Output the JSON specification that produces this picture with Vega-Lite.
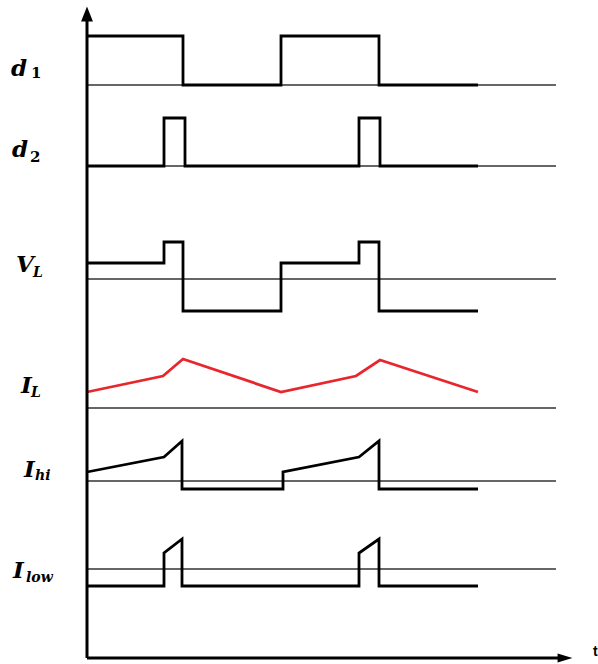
{
  "$schema": "https://vega.github.io/schema/vega-lite/v6.json",
  "width": 598,
  "height": 664,
  "autosize": {"type": "fit", "contains": "padding"},
  "padding": 0,
  "background": "white",
  "config": {"view": {"stroke": null}},
  "datasets": {
    "waves": [
      {"signal": "d1", "i": 0, "t": 0, "v": 622},
      {"signal": "d1", "i": 1, "t": 96, "v": 622},
      {"signal": "d1", "i": 2, "t": 96, "v": 573},
      {"signal": "d1", "i": 3, "t": 194, "v": 573},
      {"signal": "d1", "i": 4, "t": 194, "v": 622},
      {"signal": "d1", "i": 5, "t": 292, "v": 622},
      {"signal": "d1", "i": 6, "t": 292, "v": 573},
      {"signal": "d1", "i": 7, "t": 391, "v": 573},

      {"signal": "d2", "i": 0, "t": 0, "v": 492},
      {"signal": "d2", "i": 1, "t": 77, "v": 492},
      {"signal": "d2", "i": 2, "t": 77, "v": 540},
      {"signal": "d2", "i": 3, "t": 98, "v": 540},
      {"signal": "d2", "i": 4, "t": 98, "v": 492},
      {"signal": "d2", "i": 5, "t": 272, "v": 492},
      {"signal": "d2", "i": 6, "t": 272, "v": 540},
      {"signal": "d2", "i": 7, "t": 293, "v": 540},
      {"signal": "d2", "i": 8, "t": 293, "v": 492},
      {"signal": "d2", "i": 9, "t": 391, "v": 492},

      {"signal": "VL", "i": 0, "t": 0, "v": 395},
      {"signal": "VL", "i": 1, "t": 77, "v": 395},
      {"signal": "VL", "i": 2, "t": 77, "v": 416},
      {"signal": "VL", "i": 3, "t": 96, "v": 416},
      {"signal": "VL", "i": 4, "t": 96, "v": 347},
      {"signal": "VL", "i": 5, "t": 194, "v": 347},
      {"signal": "VL", "i": 6, "t": 194, "v": 395},
      {"signal": "VL", "i": 7, "t": 272, "v": 395},
      {"signal": "VL", "i": 8, "t": 272, "v": 416},
      {"signal": "VL", "i": 9, "t": 292, "v": 416},
      {"signal": "VL", "i": 10, "t": 292, "v": 347},
      {"signal": "VL", "i": 11, "t": 391, "v": 347},

      {"signal": "IL", "i": 0, "t": 0, "v": 266},
      {"signal": "IL", "i": 1, "t": 76, "v": 282},
      {"signal": "IL", "i": 2, "t": 96, "v": 299},
      {"signal": "IL", "i": 3, "t": 194, "v": 266},
      {"signal": "IL", "i": 4, "t": 269, "v": 282},
      {"signal": "IL", "i": 5, "t": 293, "v": 298},
      {"signal": "IL", "i": 6, "t": 391, "v": 266},

      {"signal": "Ihi", "i": 0, "t": 0, "v": 186},
      {"signal": "Ihi", "i": 1, "t": 77, "v": 201},
      {"signal": "Ihi", "i": 2, "t": 95, "v": 217},
      {"signal": "Ihi", "i": 3, "t": 95, "v": 169},
      {"signal": "Ihi", "i": 4, "t": 196, "v": 169},
      {"signal": "Ihi", "i": 5, "t": 196, "v": 186},
      {"signal": "Ihi", "i": 6, "t": 272, "v": 201},
      {"signal": "Ihi", "i": 7, "t": 292, "v": 217},
      {"signal": "Ihi", "i": 8, "t": 292, "v": 169},
      {"signal": "Ihi", "i": 9, "t": 391, "v": 169},

      {"signal": "Ilow", "i": 0, "t": 0, "v": 72},
      {"signal": "Ilow", "i": 1, "t": 77, "v": 72},
      {"signal": "Ilow", "i": 2, "t": 77, "v": 105},
      {"signal": "Ilow", "i": 3, "t": 95, "v": 119},
      {"signal": "Ilow", "i": 4, "t": 95, "v": 72},
      {"signal": "Ilow", "i": 5, "t": 272, "v": 72},
      {"signal": "Ilow", "i": 6, "t": 272, "v": 105},
      {"signal": "Ilow", "i": 7, "t": 292, "v": 119},
      {"signal": "Ilow", "i": 8, "t": 292, "v": 72},
      {"signal": "Ilow", "i": 9, "t": 391, "v": 72}
    ],
    "baselines": [
      {"signal": "d1", "t0": 0, "t1": 469, "v": 573},
      {"signal": "d2", "t0": 0, "t1": 469, "v": 492},
      {"signal": "VL", "t0": 0, "t1": 469, "v": 379},
      {"signal": "IL", "t0": 0, "t1": 469, "v": 250},
      {"signal": "Ihi", "t0": 0, "t1": 469, "v": 177},
      {"signal": "Ilow", "t0": 0, "t1": 469, "v": 89}
    ],
    "axes": [
      {"axis": "value", "t0": 0, "t1": 0, "v0": 0, "v1": 637},
      {"axis": "time", "t0": 0, "t1": 471, "v0": 0, "v1": 0}
    ],
    "arrows": [
      {"axis": "value", "t": 0, "v": 644},
      {"axis": "time", "t": 478, "v": 0}
    ],
    "names": [
      {"name": "d", "t": -76, "v": 582},
      {"name": "d", "t": -75, "v": 501},
      {"name": "V", "t": -71, "v": 386},
      {"name": "I", "t": -66, "v": 265},
      {"name": "I", "t": -63, "v": 181},
      {"name": "I", "t": -74, "v": 80}
    ],
    "digitSubscripts": [
      {"name": "1", "t": -56, "v": 580},
      {"name": "2", "t": -57, "v": 496}
    ],
    "letterSubscripts": [
      {"name": "L", "t": -54, "v": 381},
      {"name": "L", "t": -56, "v": 261},
      {"name": "hi", "t": -52, "v": 178},
      {"name": "low", "t": -61, "v": 76}
    ],
    "timeLabel": [
      {"name": "t", "t": 506, "v": 2}
    ]
  },
  "layer": [
    {
      "data": {"name": "baselines"},
      "mark": {"type": "rule", "stroke": "#333333", "strokeWidth": 1.3},
      "encoding": {
        "x": {"field": "t0", "type": "quantitative", "scale": {"domain": [-87, 511], "nice": false, "zero": false}, "axis": null},
        "x2": {"field": "t1"},
        "y": {"field": "v", "type": "quantitative", "scale": {"domain": [-6, 658], "nice": false, "zero": false}, "axis": null}
      }
    },
    {
      "data": {"name": "waves"},
      "mark": {"type": "line", "strokeWidth": 2.8, "strokeJoin": "miter", "strokeCap": "butt"},
      "encoding": {
        "x": {"field": "t", "type": "quantitative"},
        "y": {"field": "v", "type": "quantitative"},
        "detail": {"field": "signal"},
        "order": {"field": "i", "type": "quantitative"},
        "color": {
          "field": "signal",
          "type": "nominal",
          "scale": {"domain": ["d1", "d2", "VL", "IL", "Ihi", "Ilow"], "range": ["#000000", "#000000", "#000000", "#e8262d", "#000000", "#000000"]},
          "legend": null
        }
      }
    },
    {
      "data": {"name": "axes"},
      "mark": {"type": "rule", "stroke": "#000000", "strokeWidth": 3},
      "encoding": {
        "x": {"field": "t0", "type": "quantitative"},
        "x2": {"field": "t1"},
        "y": {"field": "v0", "type": "quantitative"},
        "y2": {"field": "v1"}
      }
    },
    {
      "data": {"name": "arrows"},
      "mark": {"type": "point", "filled": true, "fill": "#000000", "opacity": 1, "strokeWidth": 0},
      "encoding": {
        "x": {"field": "t", "type": "quantitative"},
        "y": {"field": "v", "type": "quantitative"},
        "shape": {
          "field": "axis",
          "type": "nominal",
          "scale": {"domain": ["value", "time"], "range": ["M0,-1L0.8,1L-0.8,1Z", "M1,0L-1,0.62L-1,-0.62Z"]},
          "legend": null
        },
        "size": {"value": 220}
      }
    },
    {
      "data": {"name": "names"},
      "mark": {"type": "text", "font": "DejaVu Serif", "fontStyle": "italic", "fontWeight": "bold", "fontSize": 23, "align": "left", "baseline": "alphabetic", "color": "#000000"},
      "encoding": {
        "x": {"field": "t", "type": "quantitative"},
        "y": {"field": "v", "type": "quantitative"},
        "text": {"field": "name"}
      }
    },
    {
      "data": {"name": "digitSubscripts"},
      "mark": {"type": "text", "font": "DejaVu Serif", "fontWeight": "bold", "fontSize": 15, "align": "left", "baseline": "alphabetic", "color": "#000000"},
      "encoding": {
        "x": {"field": "t", "type": "quantitative"},
        "y": {"field": "v", "type": "quantitative"},
        "text": {"field": "name"}
      }
    },
    {
      "data": {"name": "letterSubscripts"},
      "mark": {"type": "text", "font": "DejaVu Serif", "fontStyle": "italic", "fontWeight": "bold", "fontSize": 14, "align": "left", "baseline": "alphabetic", "color": "#000000"},
      "encoding": {
        "x": {"field": "t", "type": "quantitative"},
        "y": {"field": "v", "type": "quantitative"},
        "text": {"field": "name"}
      }
    },
    {
      "data": {"name": "timeLabel"},
      "mark": {"type": "text", "font": "Liberation Sans", "fontWeight": "bold", "fontSize": 14, "align": "left", "baseline": "alphabetic", "color": "#000000"},
      "encoding": {
        "x": {"field": "t", "type": "quantitative"},
        "y": {"field": "v", "type": "quantitative"},
        "text": {"field": "name"}
      }
    }
  ]
}
